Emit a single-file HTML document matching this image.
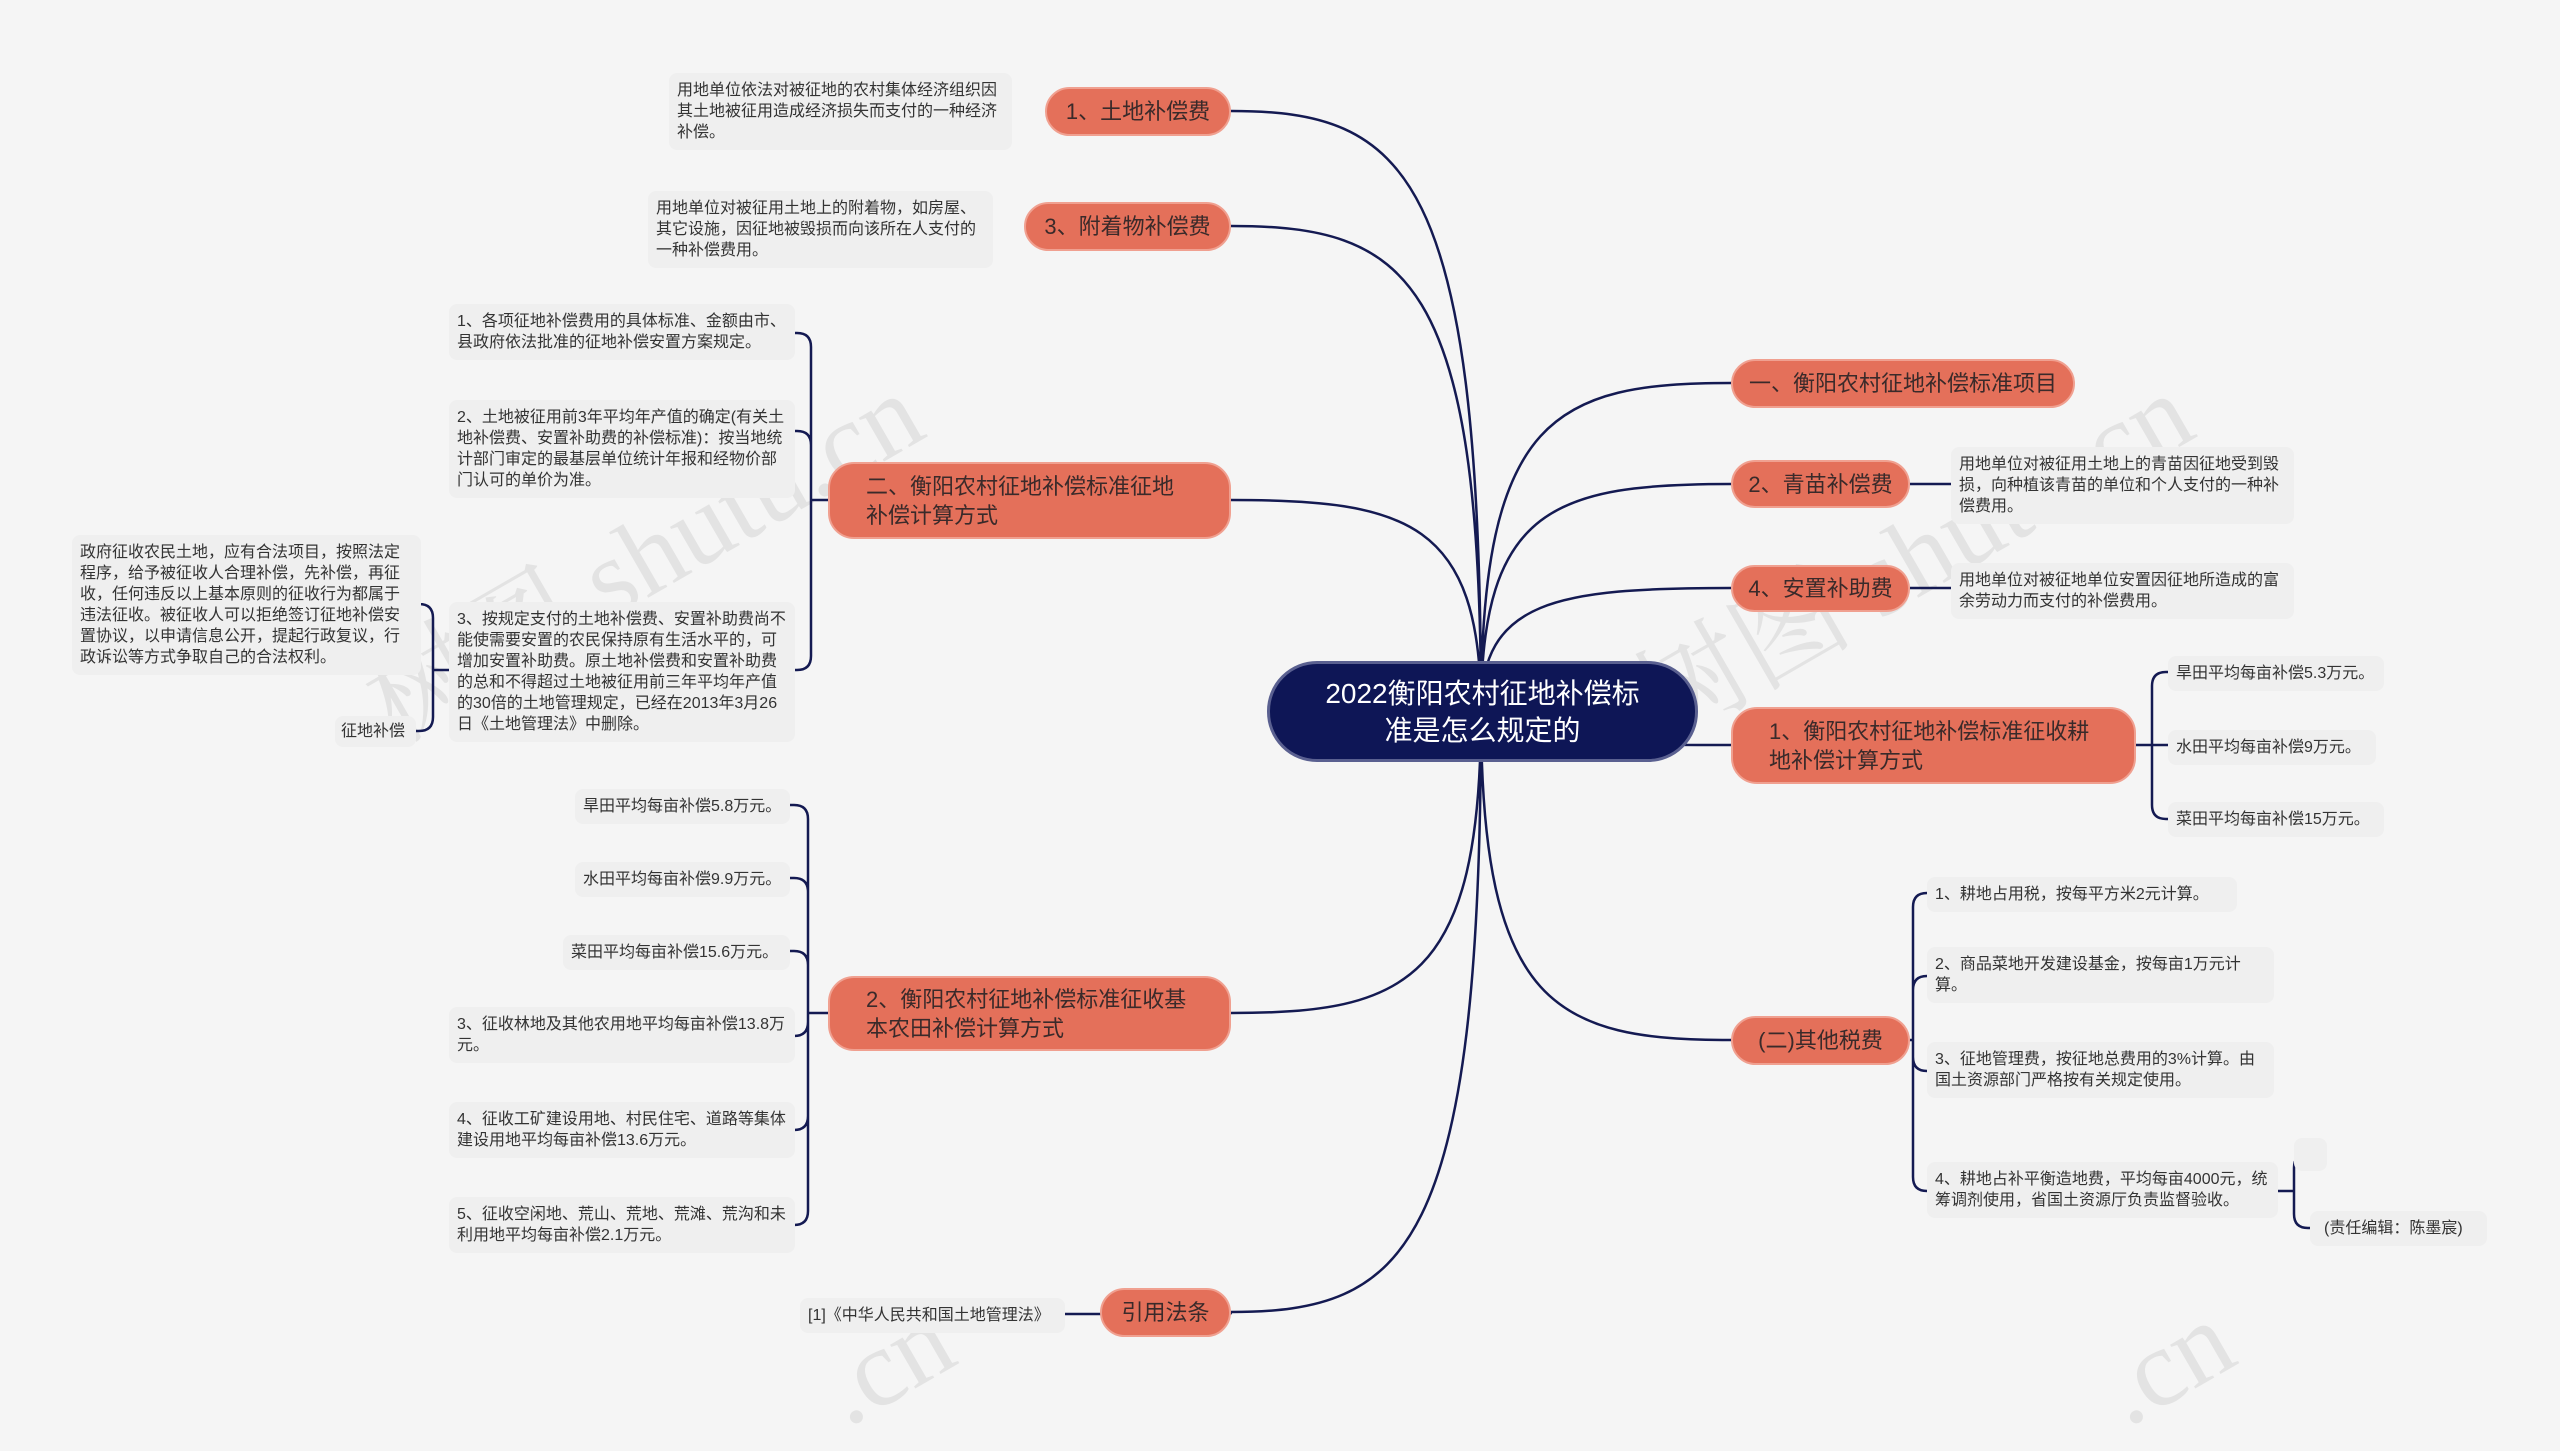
<!DOCTYPE html>
<html><head><meta charset="utf-8"><style>
body{margin:0;width:2560px;height:1409px;background:#f5f5f5;position:relative;overflow:hidden;font-family:"Liberation Sans","Noto Sans CJK SC",sans-serif}
.o{position:absolute;background:#e4705a;border:2px solid #f0a090;border-radius:26px;color:#3a2a2a;font-size:22px;line-height:29px;box-sizing:border-box;display:flex;align-items:center;padding:0 36px}
.n{white-space:nowrap;justify-content:center;padding:0 10px}
.t{position:absolute;background:#efefef;border-radius:8px;color:#333;font-size:16px;line-height:21px;box-sizing:border-box;padding:7px 8px}
.c{position:absolute;left:1267px;top:661px;width:431px;height:101px;background:#0e1656;border:3px solid #5a6090;box-sizing:border-box;border-radius:50px;color:#fff;font-size:28px;line-height:37px;text-align:center;display:flex;align-items:center;justify-content:center}
.w{position:absolute;color:rgba(0,0,0,0.07);font-size:110px;font-family:"Liberation Serif","Noto Serif CJK SC",serif;transform:rotate(-30deg);white-space:nowrap}
svg{position:absolute;left:0;top:0}
</style></head><body>
<div class="w" style="left:330px;top:470px">树图 shutu.cn</div>
<div class="w" style="left:1600px;top:470px">树图 shutu.cn</div>
<div class="w" style="left:820px;top:1300px">.cn</div>
<div class="w" style="left:2100px;top:1300px">.cn</div>
<svg width="2560" height="1409" id="s"></svg>
<div class="c">2022衡阳农村征地补偿标<br>准是怎么规定的</div>

<div class="o n" style="left:1045px;top:87px;width:186px;height:49px">1、土地补偿费</div>
<div class="o n" style="left:1024px;top:202px;width:207px;height:49px">3、附着物补偿费</div>
<div class="o" style="left:828px;top:462px;width:403px;height:77px">二、衡阳农村征地补偿标准征地补偿计算方式</div>
<div class="o" style="left:828px;top:976px;width:403px;height:75px">2、衡阳农村征地补偿标准征收基本农田补偿计算方式</div>
<div class="o n" style="left:1100px;top:1288px;width:131px;height:49px">引用法条</div>
<div class="o n" style="left:1731px;top:359px;width:344px;height:49px">一、衡阳农村征地补偿标准项目</div>
<div class="o n" style="left:1731px;top:460px;width:179px;height:48px">2、青苗补偿费</div>
<div class="o n" style="left:1731px;top:565px;width:179px;height:47px">4、安置补助费</div>
<div class="o" style="left:1731px;top:707px;width:405px;height:77px">1、衡阳农村征地补偿标准征收耕地补偿计算方式</div>
<div class="o n" style="left:1731px;top:1016px;width:179px;height:49px">(二)其他税费</div>

<div class="t" style="left:669px;top:73px;width:343px">用地单位依法对被征地的农村集体经济组织因其土地被征用造成经济损失而支付的一种经济补偿。</div>
<div class="t" style="left:648px;top:191px;width:345px">用地单位对被征用土地上的附着物，如房屋、其它设施，因征地被毁损而向该所在人支付的一种补偿费用。</div>
<div class="t" style="left:449px;top:304px;width:346px">1、各项征地补偿费用的具体标准、金额由市、县政府依法批准的征地补偿安置方案规定。</div>
<div class="t" style="left:449px;top:400px;width:346px">2、土地被征用前3年平均年产值的确定(有关土地补偿费、安置补助费的补偿标准)：按当地统计部门审定的最基层单位统计年报和经物价部门认可的单价为准。</div>
<div class="t" style="left:449px;top:602px;width:346px">3、按规定支付的土地补偿费、安置补助费尚不能使需要安置的农民保持原有生活水平的，可增加安置补助费。原土地补偿费和安置补助费的总和不得超过土地被征用前三年平均年产值的30倍的土地管理规定，已经在2013年3月26日《土地管理法》中删除。</div>
<div class="t" style="left:72px;top:535px;width:349px">政府征收农民土地，应有合法项目，按照法定程序，给予被征收人合理补偿，先补偿，再征收，任何违反以上基本原则的征收行为都属于违法征收。被征收人可以拒绝签订征地补偿安置协议，以申请信息公开，提起行政复议，行政诉讼等方式争取自己的合法权利。</div>
<div class="t" style="left:335px;top:716px;width:81px;padding:5px 6px">征地补偿</div>
<div class="t" style="left:575px;top:789px;width:215px">旱田平均每亩补偿5.8万元。</div>
<div class="t" style="left:575px;top:862px;width:215px">水田平均每亩补偿9.9万元。</div>
<div class="t" style="left:563px;top:935px;width:227px">菜田平均每亩补偿15.6万元。</div>
<div class="t" style="left:449px;top:1007px;width:346px">3、征收林地及其他农用地平均每亩补偿13.8万元。</div>
<div class="t" style="left:449px;top:1102px;width:346px">4、征收工矿建设用地、村民住宅、道路等集体建设用地平均每亩补偿13.6万元。</div>
<div class="t" style="left:449px;top:1197px;width:346px">5、征收空闲地、荒山、荒地、荒滩、荒沟和未利用地平均每亩补偿2.1万元。</div>
<div class="t" style="left:800px;top:1298px;width:265px">[1]《中华人民共和国土地管理法》</div>
<div class="t" style="left:1951px;top:447px;width:343px">用地单位对被征用土地上的青苗因征地受到毁损，向种植该青苗的单位和个人支付的一种补偿费用。</div>
<div class="t" style="left:1951px;top:563px;width:343px">用地单位对被征地单位安置因征地所造成的富余劳动力而支付的补偿费用。</div>
<div class="t" style="left:2168px;top:656px;width:216px">旱田平均每亩补偿5.3万元。</div>
<div class="t" style="left:2168px;top:730px;width:208px">水田平均每亩补偿9万元。</div>
<div class="t" style="left:2168px;top:802px;width:216px">菜田平均每亩补偿15万元。</div>
<div class="t" style="left:1927px;top:877px;width:310px">1、耕地占用税，按每平方米2元计算。</div>
<div class="t" style="left:1927px;top:947px;width:347px">2、商品菜地开发建设基金，按每亩1万元计算。</div>
<div class="t" style="left:1927px;top:1042px;width:347px">3、征地管理费，按征地总费用的3%计算。由国土资源部门严格按有关规定使用。</div>
<div class="t" style="left:1927px;top:1162px;width:351px">4、耕地占补平衡造地费，平均每亩4000元，统筹调剂使用，省国土资源厅负责监督验收。</div>
<div class="t" style="left:2294px;top:1138px;width:33px;height:33px"></div>
<div class="t" style="left:2310px;top:1211px;width:177px;padding-left:14px">(责任编辑：陈墨宸)</div>

<script>
var s=document.getElementById('s'),P='';
function c(tx,ty){var sx=1481,sy=711;P+='M'+sx+' '+sy+' C'+sx+' '+(sy+(ty-sy)*0.9)+' '+(sx+(tx-sx)*0.3)+' '+ty+' '+tx+' '+ty+' ';}
[[1231,111],[1231,226],[1231,500],[1231,1013],[1231,1312],[1731,383],[1731,484],[1731,588],[1731,745],[1731,1040]].forEach(function(a){c(a[0],a[1])});
function b(x1,y1,bx,x2,y2){var d=x2<bx?-1:1,r=Math.min(14,Math.abs(y2-y1)),sg=y2<y1?1:-1;
P+='M'+x1+' '+y1+' H'+bx+' ';
if(Math.abs(y2-y1)<2){P+='H'+x2+' ';return;}
P+='M'+bx+' '+y1+' V'+(y2+sg*r)+' Q'+bx+' '+y2+' '+(bx+d*r)+' '+y2+' H'+x2+' ';}
[[333],[431],[670]].forEach(function(a){b(1231,500,811,795,a[0])});
b(449,670,433,421,604);b(449,670,433,416,731);
[805,878,951,1036,1130,1225].forEach(function(y){b(1231,1013,808,790,y)});
b(1231,1312,1231,1065,1314);
b(1910,484,1910,1951,484);b(1910,588,1910,1951,589);
[672,746,819].forEach(function(y){b(2136,745,2152,2168,y)});
[893,976,1071,1191].forEach(function(y){b(1910,1040,1913,1927,y)});
b(2278,1191,2294,2294,1154);b(2278,1191,2294,2310,1228);
s.innerHTML='<path d="'+P+'" fill="none" stroke="#141a52" stroke-width="2.5"/>';
</script>
</body></html>
